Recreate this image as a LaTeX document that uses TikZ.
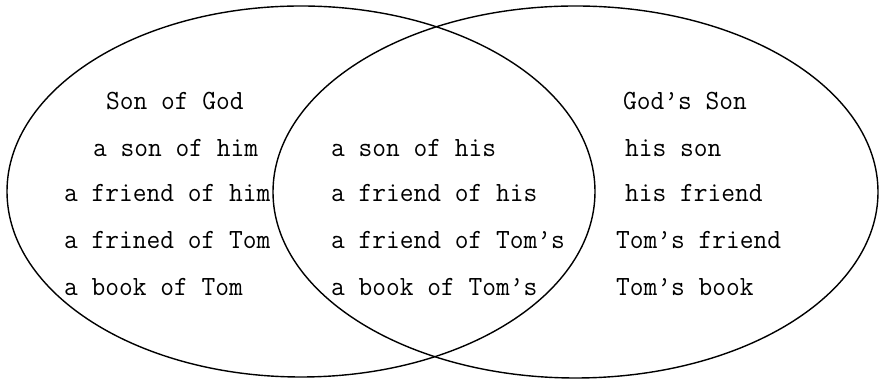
\documentclass[tikz,border=0pt]{standalone}
\usepackage{fontspec}
\newfontfamily\vennfont[FakeStretch=0.96]{Latin Modern Mono}
\begin{document}
\begin{tikzpicture}[x=1pt,y=1pt,
  lbl/.style={anchor=base west,inner sep=0pt,font=\vennfont\fontsize{27.8}{30}\selectfont},
  ring/.style={draw=black,line width=1.4pt}]
\useasboundingbox (0,0) rectangle (879,379);
\draw[ring] (301,187.5) ellipse [x radius=294, y radius=185.5];
\draw[ring] (575.5,187) ellipse [x radius=302.5, y radius=186];
% left
\node[lbl] (l1) at (106,269) {Son of God};
\node[lbl] (l2) at (93,222) {a son of him};
\node[lbl] (l3) at (64,177) {a friend of him};
\node[lbl] (l4) at (64,130) {a frined of Tom};
\node[lbl] (l5) at (64,83) {a book of Tom};
% middle
\node[lbl] (m1) at (331,222) {a son of his};
\node[lbl] (m2) at (331,177) {a friend of his};
\node[lbl] (m3) at (331,130) {a friend of Tom’s};
\node[lbl] (m4) at (331,83) {a book of Tom’s};
% right
\node[lbl] (r1) at (623,269) {God’s Son};
\node[lbl] (r2) at (625,222) {his son};
\node[lbl] (r3) at (625,177) {his friend};
\node[lbl] (r4) at (616,130) {Tom’s friend};
\node[lbl] (r5) at (616,83) {Tom’s book};
\end{tikzpicture}
\end{document}
